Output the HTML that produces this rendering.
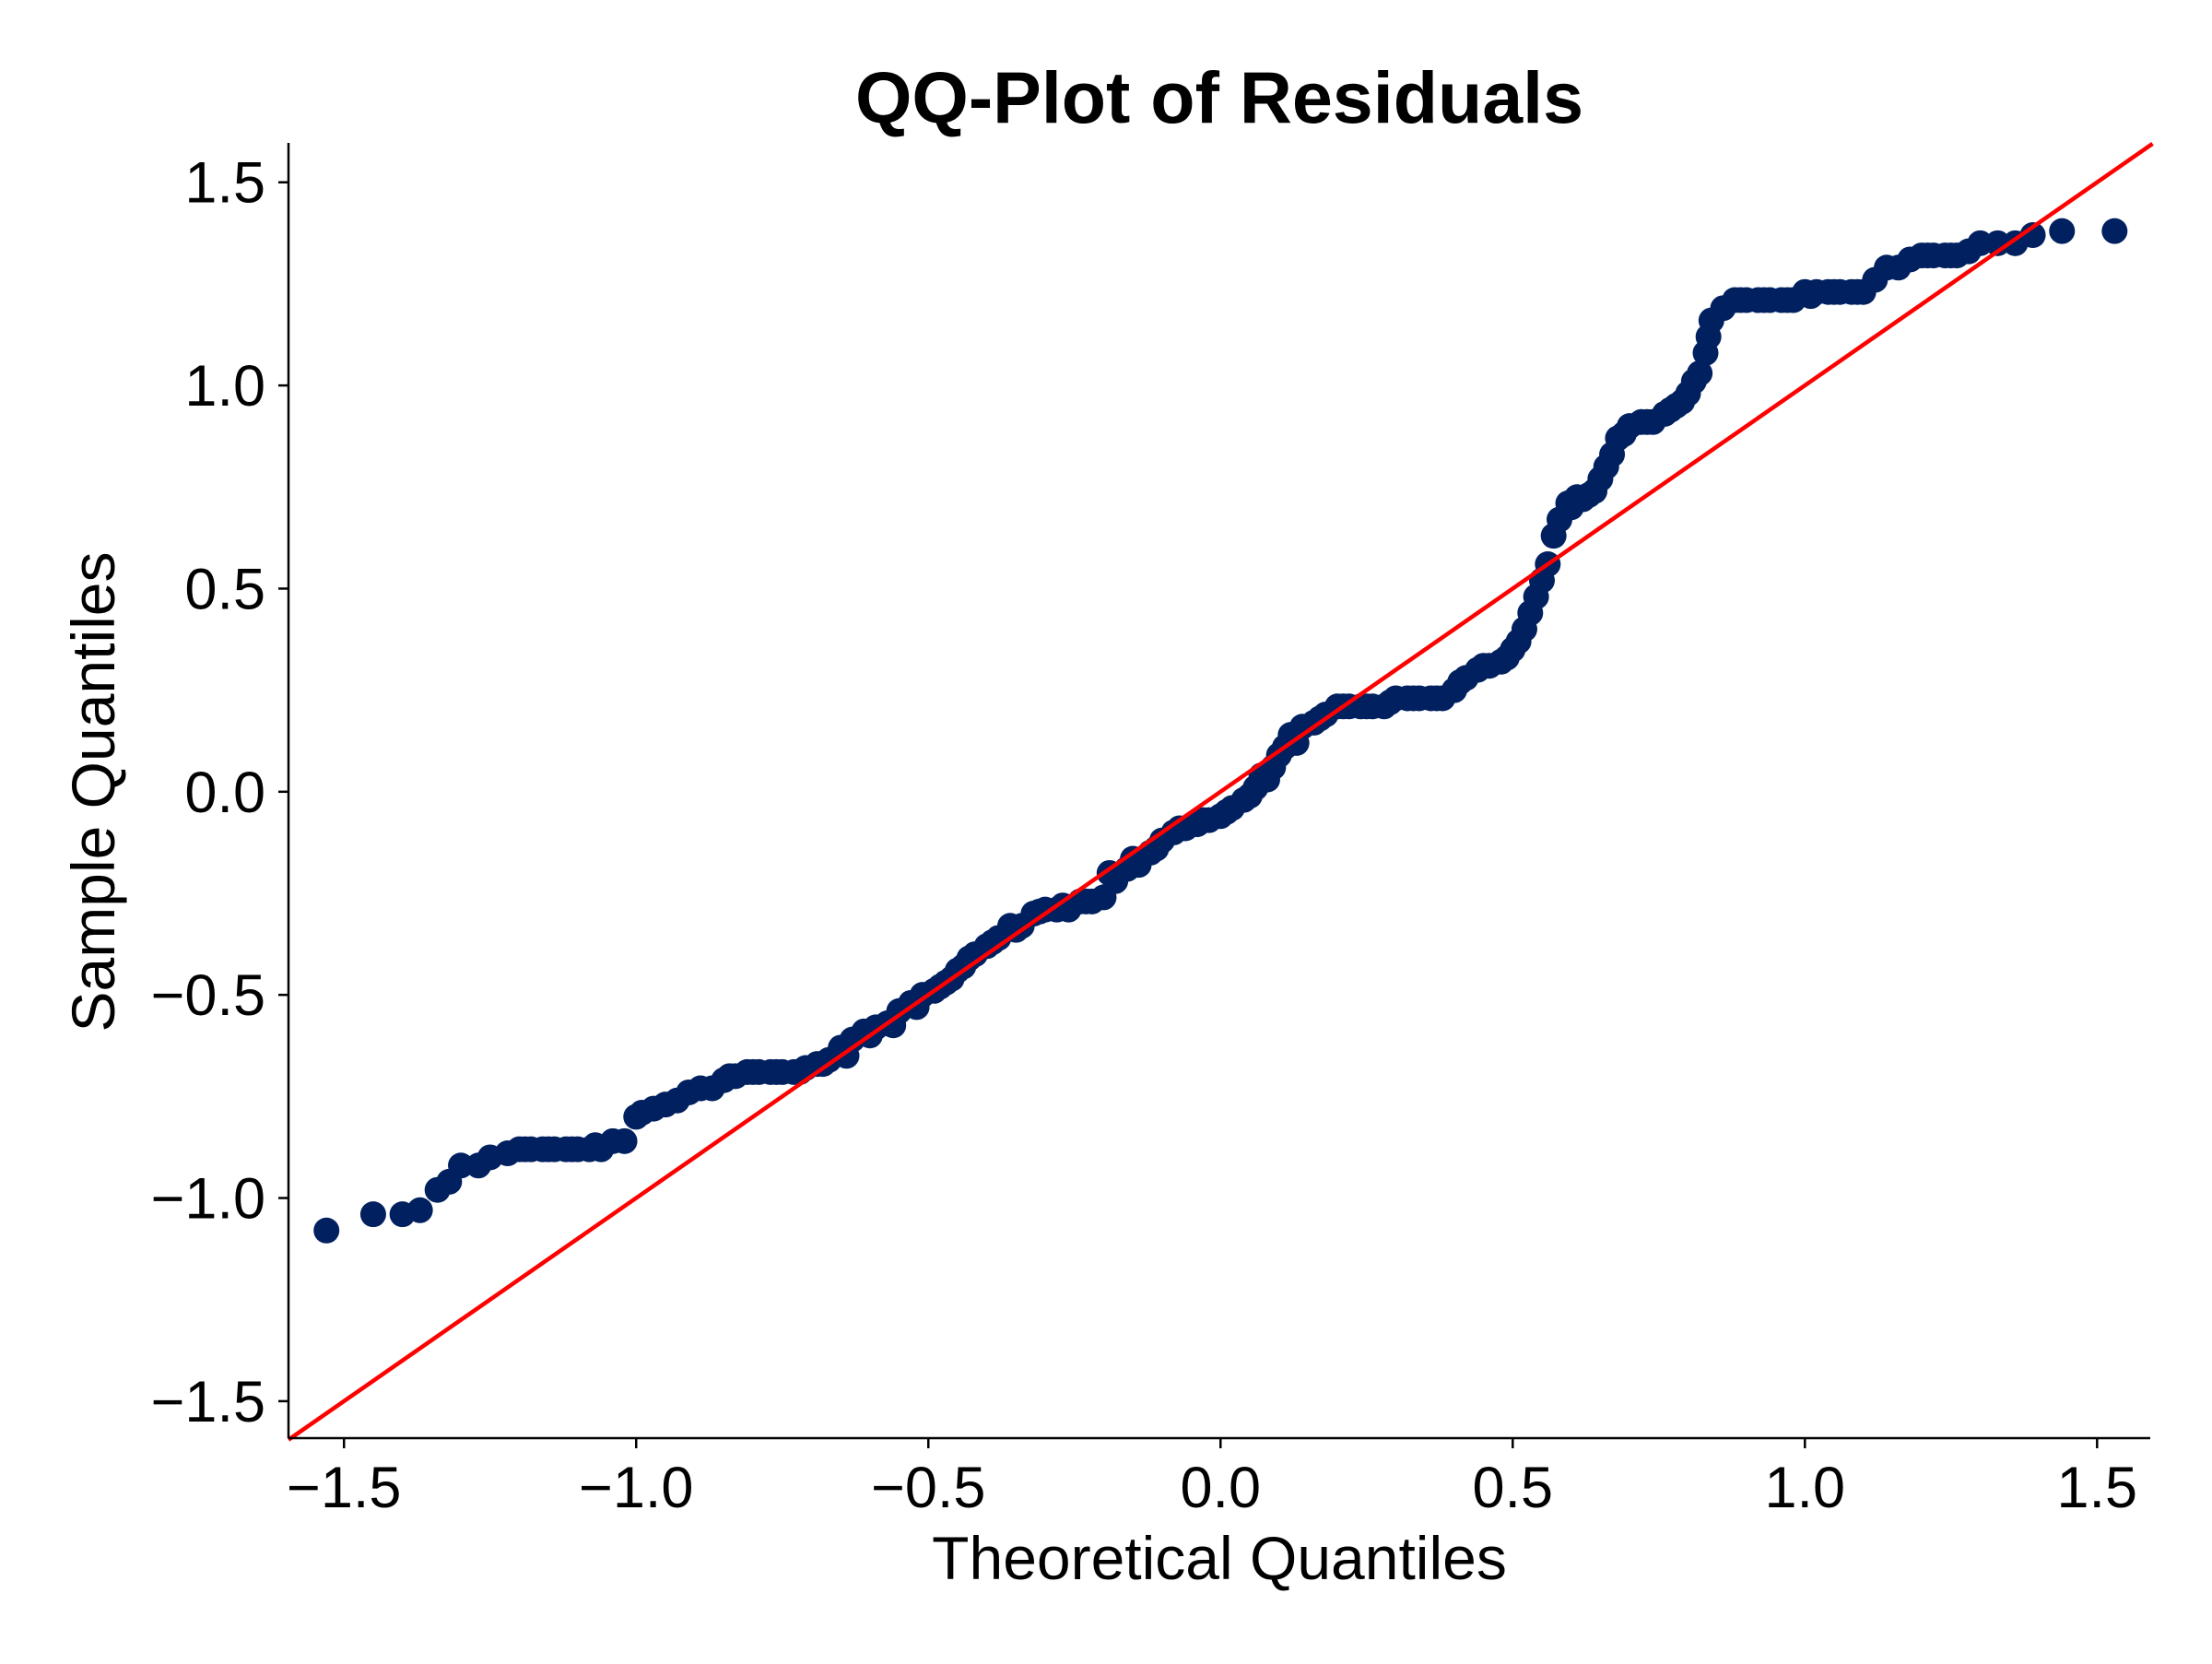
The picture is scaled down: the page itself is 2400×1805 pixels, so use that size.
<!DOCTYPE html>
<html><head><meta charset="utf-8"><style>
html,body{margin:0;padding:0;background:#fff;}
svg text{font-family:"Liberation Sans",Arial,sans-serif;fill:#000;}
</style></head><body>
<svg id="chart" width="2400" height="1800" xmlns="http://www.w3.org/2000/svg">
<rect width="2400" height="1800" fill="#fff"/>
<text x="1323" y="133" text-anchor="middle" font-size="79" font-weight="bold">QQ-Plot of Residuals</text>
<g id="points"></g>
<g id="refline"></g>
<g id="axes"></g>
<text x="1323" y="1713" text-anchor="middle" font-size="66">Theoretical Quantiles</text>
<text x="0" y="0" transform="translate(124,859) rotate(-90)" text-anchor="middle" font-size="66">Sample Quantiles</text>
</svg>
<script>
const theoretical = [-1.53,-1.45,-1.40,-1.37,-1.34,-1.32,-1.30,-1.27,-1.25,-1.22,-1.20,-1.18,-1.16,-1.14,-1.12,-1.10,-1.08,-1.06,-1.04,-1.02,-1.00,-0.99,-0.97,-0.95,-0.93,-0.91,-0.89,-0.87,-0.85,-0.83,-0.81,-0.79,-0.77,-0.75,-0.73,-0.71,-0.69,-0.67,-0.65,-0.63,-0.61,-0.59,-0.57,-0.55,-0.53,-0.51,-0.49,-0.48,-0.46,-0.45,-0.44,-0.42,-0.40,-0.38,-0.36,-0.34,-0.32,-0.30,-0.28,-0.26,-0.24,-0.22,-0.20,-0.18,-0.16,-0.14,-0.12,-0.10,-0.08,-0.06,-0.04,-0.02,0.00,0.02,0.04,0.06,0.08,0.09,0.10,0.11,0.12,0.14,0.16,0.18,0.20,0.22,0.24,0.26,0.28,0.30,0.32,0.34,0.36,0.38,0.40,0.42,0.44,0.46,0.48,0.50,0.51,0.52,0.53,0.54,0.55,0.56,0.57,0.58,0.60,0.62,0.63,0.64,0.65,0.66,0.67,0.68,0.70,0.72,0.74,0.76,0.78,0.80,0.81,0.82,0.83,0.835,0.84,0.86,0.88,0.90,0.92,0.94,0.96,0.98,1.00,1.02,1.04,1.06,1.08,1.10,1.12,1.14,1.16,1.18,1.20,1.22,1.24,1.26,1.28,1.30,1.33,1.36,1.39,1.44,1.53,
  -1.19,-1.15,-1.11,-1.07,-0.84,-0.80,-0.76,-0.72,-0.68,-0.64,-0.60,-0.56,-0.52,-0.47,-0.43,-0.39,-0.35,-0.31,-0.27,-0.23,-0.19,-0.15,-0.11,-0.07,-0.03,0.01,0.05,0.07,0.13,0.17,0.21,0.25,0.29,0.33,0.37,0.41,0.45,0.49,0.595,0.61,0.69,0.73,0.77,0.79,0.89,0.93,0.97,1.01,1.05,1.09,1.21,1.25];
const sample = [-1.08,-1.04,-1.04,-1.03,-0.98,-0.96,-0.92,-0.92,-0.90,-0.89,-0.88,-0.88,-0.88,-0.88,-0.88,-0.88,-0.88,-0.88,-0.86,-0.86,-0.80,-0.79,-0.78,-0.77,-0.76,-0.74,-0.73,-0.73,-0.71,-0.70,-0.69,-0.69,-0.69,-0.69,-0.69,-0.68,-0.67,-0.66,-0.63,-0.61,-0.59,-0.58,-0.57,-0.54,-0.52,-0.50,-0.49,-0.48,-0.46,-0.44,-0.43,-0.40,-0.38,-0.36,-0.33,-0.33,-0.30,-0.29,-0.29,-0.29,-0.27,-0.27,-0.26,-0.22,-0.19,-0.18,-0.15,-0.12,-0.10,-0.09,-0.08,-0.07,-0.06,-0.04,-0.02,0.01,0.03,0.06,0.09,0.11,0.14,0.16,0.17,0.19,0.21,0.21,0.21,0.21,0.21,0.23,0.23,0.23,0.23,0.23,0.25,0.28,0.30,0.31,0.32,0.35,0.37,0.40,0.44,0.48,0.52,0.56,0.63,0.67,0.70,0.72,0.73,0.74,0.77,0.80,0.83,0.87,0.90,0.91,0.91,0.93,0.95,0.98,1.01,1.03,1.08,1.12,1.16,1.19,1.21,1.21,1.21,1.21,1.21,1.21,1.23,1.23,1.23,1.23,1.23,1.23,1.26,1.29,1.29,1.31,1.32,1.32,1.32,1.32,1.33,1.35,1.35,1.35,1.37,1.38,1.38,
  -0.88,-0.88,-0.88,-0.87,-0.70,-0.69,-0.69,-0.69,-0.67,-0.65,-0.60,-0.575,-0.53,-0.47,-0.41,-0.37,-0.34,-0.295,-0.28,-0.27,-0.20,-0.165,-0.14,-0.09,-0.07,-0.05,-0.01,0.04,0.12,0.18,0.21,0.21,0.22,0.23,0.23,0.27,0.31,0.33,0.71,0.725,0.88,0.91,0.94,0.96,1.21,1.21,1.21,1.22,1.23,1.23,1.32,1.32];
const xTicks = [-1.5,-1.0,-0.5,0.0,0.5,1.0,1.5];
const yTicks = [-1.5,-1.0,-0.5,0.0,0.5,1.0,1.5];
const xTickLabels = ["\u22121.5","\u22121.0","\u22120.5","0.0","0.5","1.0","1.5"];
const yTickLabels = ["\u22121.5","\u22121.0","\u22120.5","0.0","0.5","1.0","1.5"];
const refLine = [-1.595,1.595];

const L=313,R=2333,T=155,B=1560,xmin=-1.595,xmax=1.591,ymin=-1.591,ymax=1.597;
const xs=v=>L+(v-xmin)/(xmax-xmin)*(R-L);
const ys=v=>B-(v-ymin)/(ymax-ymin)*(B-T);
const NS="http://www.w3.org/2000/svg";
function mk(tag,attrs,parent){const e=document.createElementNS(NS,tag);for(const k in attrs)e.setAttribute(k,attrs[k]);parent.appendChild(e);return e;}

const pg=document.getElementById('points');
theoretical.forEach((t,i)=>{
  const c=mk('circle',{cx:xs(t),cy:ys(sample[i]),r:14,fill:'#00205f'},pg);
  
  
});

const rg=document.getElementById('refline');
const ln=mk('line',{x1:xs(refLine[0]),y1:ys(refLine[0]),x2:xs(refLine[1]),y2:ys(refLine[1]),stroke:'#ff0000','stroke-width':4.5},rg);



const ag=document.getElementById('axes');
const yl=mk('line',{x1:L,y1:T,x2:L,y2:B,stroke:'#000','stroke-width':2.5},ag);


const xl=mk('line',{x1:L,y1:B,x2:R,y2:B,stroke:'#000','stroke-width':2.5},ag);


xTicks.forEach((v,i)=>{
  const tk=mk('line',{x1:xs(v),y1:B,x2:xs(v),y2:B+11,stroke:'#000','stroke-width':2.5},ag);
  
  
  const tx=mk('text',{x:xs(v),y:B+75,'text-anchor':'middle','font-size':63},ag);
  tx.textContent=xTickLabels[i];
  
  
});
yTicks.forEach((v,i)=>{
  const tk=mk('line',{x1:L-11,y1:ys(v),x2:L,y2:ys(v),stroke:'#000','stroke-width':2.5},ag);
  
  
  const tx=mk('text',{x:L-25,y:ys(v)+22,'text-anchor':'end','font-size':63},ag);
  tx.textContent=yTickLabels[i];
  
  
});
</script>
</body></html>
